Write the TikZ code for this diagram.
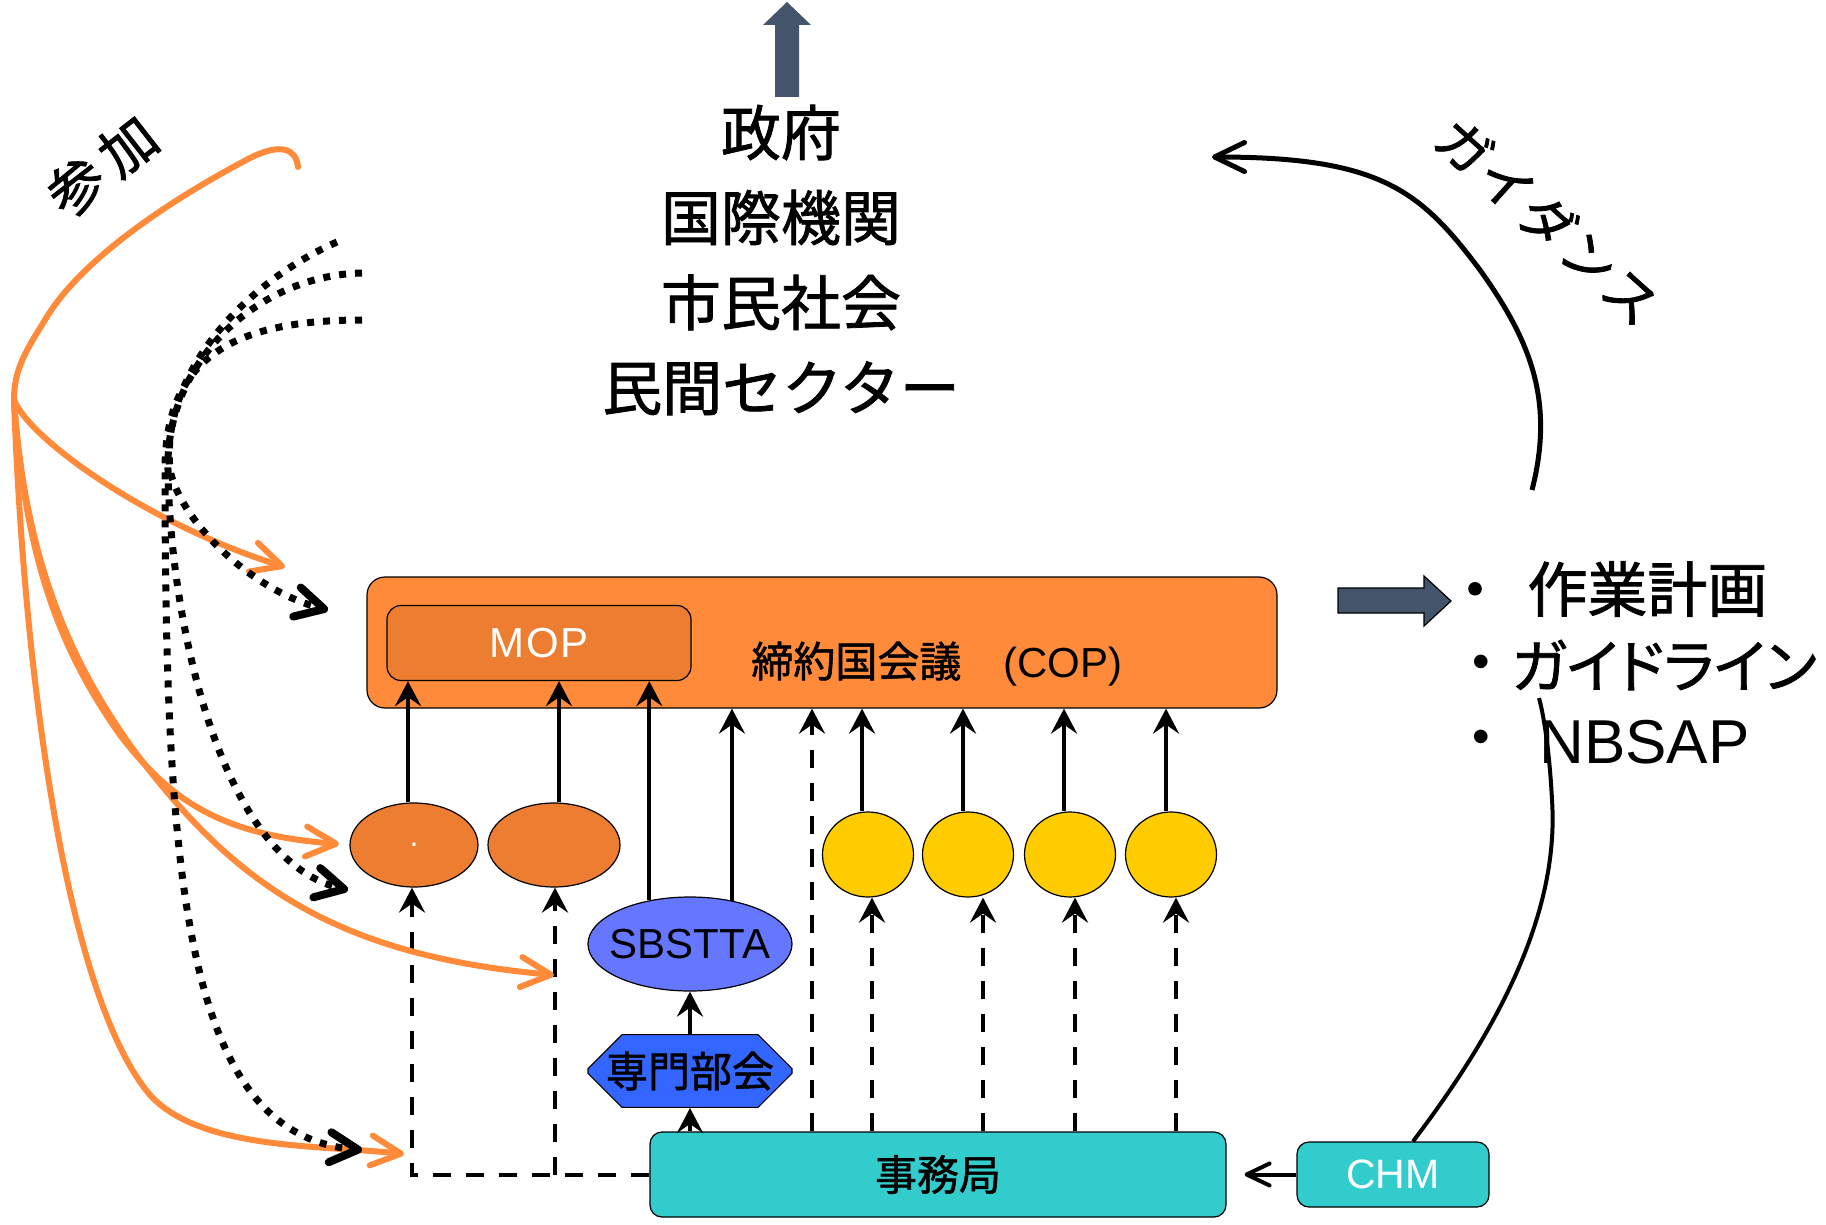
\documentclass[tikz,border=0pt]{standalone}
\usepackage{fontspec}
\setmainfont{Liberation Sans}
\newfontfamily\jp{Noto Sans CJK JP}[RawFeature={embolden=1.3}]
\newfontfamily\jpp{Noto Sans CJK JP}[RawFeature={+palt;embolden=1.3}]
\usetikzlibrary{arrows.meta,shapes.geometric,shapes.misc,calc}
\definecolor{coporange}{HTML}{FF8B3A}
\definecolor{moporange}{HTML}{ED7D31}
\definecolor{ygold}{HTML}{FFCC00}
\definecolor{sbblue}{HTML}{6677FF}
\definecolor{smblue}{HTML}{3366FF}
\definecolor{jimu}{HTML}{33CCCC}
\definecolor{slate}{HTML}{44546A}
\newcommand\myfs[1]{\fontsize{#1}{#1}\selectfont}
\begin{document}
\begin{tikzpicture}[x=0.5pt,y=-0.5pt]
\tikzset{
  box/.style={draw=black,line width=0.6pt,inner sep=0pt},
  orell/.style={box,ellipse,fill=moporange,minimum height=42pt},
  yell/.style={box,ellipse,fill=ygold,minimum width=45.5pt,minimum height=42.5pt},
  sarr/.style={line width=2pt,-{Stealth[length=12.5pt,width=13pt,inset=4.5pt]}},
  darr/.style={sarr,dash pattern=on 9pt off 7.5pt},
  orarr/.style={draw=coporange,line width=3pt,line cap=round,-{Straight Barb[length=15pt,width=15pt,round]}},
  dotarr/.style={line width=3.5pt,dash pattern=on 3.5pt off 4.5pt,-{Straight Barb[length=14pt,width=15pt,line width=4pt,round]}},
  jptxt/.style={font=\jp\myfs{#1}},
  rottxt/.style={inner sep=0pt,font=\jp\myfs{#1}},
}
\fill[white] (0,0) rectangle (1826,1225);
\useasboundingbox (0,0) rectangle (1826,1225);

% ---- top block arrow and actors
\fill[slate] (775,97) -- (775,25) -- (763,25) -- (787,2) -- (811,25) -- (799,25) -- (799,97) -- cycle;
\node[align=center,font=\jp\fontsize{30pt}{42.5pt}\selectfont,inner sep=0pt] (actors) at (781,260) {政府\\国際機関\\市民社会\\民間セクター};

% ---- COP
\node[box,fill=coporange,rounded corners=9pt,minimum width=455pt,minimum height=65.5pt] (cop) at (822,642.5) {};
\node[box,fill=moporange,rounded corners=7pt,minimum width=152pt,minimum height=37.5pt,text=white,font=\myfs{21pt}] (mop) at (539,643) {M\kern1ptO\kern1ptP};
\node[anchor=base west,inner sep=0pt,font=\myfs{21pt}] (coptext) at (751,677) {{\jp 締約国会議}\hspace{21pt}(COP)};

% ---- ellipses
\node[orell,minimum width=64pt,text=white,font=\myfs{16pt}] (e1) at (414,845) {.};
\node[orell,minimum width=66pt] (e2) at (554,845) {};
\node[yell] (y1) at (868,854.5) {};
\node[yell] (y2) at (968,854.5) {};
\node[yell] (y3) at (1070,854.5) {};
\node[yell] (y4) at (1171,854.5) {};
\node[box,ellipse,inner xsep=-6pt,fill=sbblue,minimum width=102pt,minimum height=47pt,font=\myfs{21pt}] (sb) at (690,944) {SBSTTA};
\node[box,chamfered rectangle,chamfered rectangle xsep=8.5pt,chamfered rectangle ysep=8.5pt,fill=smblue,minimum width=102pt,minimum height=33pt,jptxt=21pt] (sen) at (690,1071) {専門部会};
\node[box,fill=jimu,rounded corners=6pt,minimum width=288pt,minimum height=42.5pt,jptxt=21pt] (sec) at (938,1174.5) {事務局};
\node[box,fill=jimu,rounded corners=6pt,minimum width=96pt,minimum height=32.5pt,text=white,font=\myfs{20.5pt}] (chm) at (1393,1174.5) {CHM};

% ---- column coordinates
\coordinate (k1) at (412,0);
\coordinate (k2) at (555,0);
\coordinate (c1) at (408,0);
\coordinate (c2) at (559,0);
\coordinate (k5) at (812,0);
\coordinate (s1) at (862,0);
\coordinate (s2) at (963,0);
\coordinate (s3) at (1064,0);
\coordinate (s4) at (1166,0);
\coordinate (d1) at (872,0);
\coordinate (d2) at (983,0);
\coordinate (d3) at (1075,0);
\coordinate (d4) at (1176,0);

% ---- solid arrows up
\draw[sarr] (c1 |- e1.north) -- (c1 |- mop.south);
\draw[sarr] (c2 |- e2.north) -- (c2 |- mop.south);
\draw[sarr] (sb.133) -- (sb.133 |- mop.south);
\draw[sarr] (sb.46) -- (sb.46 |- cop.south);
\draw[sarr] (s1 |- y1.north) -- (s1 |- cop.south);
\draw[sarr] (s2 |- y2.north) -- (s2 |- cop.south);
\draw[sarr] (s3 |- y3.north) -- (s3 |- cop.south);
\draw[sarr] (s4 |- y4.north) -- (s4 |- cop.south);
\draw[sarr] (sen.north) -- (sb.south);
\draw[sarr] (sen.south |- sec.north) -- (sen.south);

% ---- dashed arrows
\draw[darr] (k5 |- sec.north) -- (k5 |- cop.south);
\draw[darr] (d1 |- sec.north) -- (d1 |- y1.south);
\draw[darr] (d2 |- sec.north) -- (d2 |- y2.south);
\draw[darr] (d3 |- sec.north) -- (d3 |- y3.south);
\draw[darr] (d4 |- sec.north) -- (d4 |- y4.south);
\draw[darr] (sec.west) -| (k1 |- e1.south);
\draw[darr] (k2 |- sec.west) -- (k2 |- e2.south);

% ---- CHM
\draw[line width=2pt,-{Straight Barb[length=11.5pt,width=11pt,round]},shorten >=9pt] (chm.west) -- (chm.west -| sec.east);
\coordinate (chmtop) at ($(chm.north)+(20,0)$);
\coordinate (chmend) at (1539,698);
\draw[line width=2pt] (chmtop) .. controls (1490,1040) and (1560,920) .. (1552,800) .. controls (1550,760) and (1545,720) .. (chmend);

% ---- right block arrow and list
\filldraw[fill=slate,draw=black,line width=0.6pt] (1338,588) -- (1424,588) -- (1424,576) -- (1451,601) -- (1424,626) -- (1424,613) -- (1338,613) -- cycle;
\node[inner sep=0pt,jptxt=30pt] (b1) at (1475,597) {・};
\node[anchor=west,inner sep=0pt,jptxt=30pt] (l1) at (1527,589) {作業計画};
\node[inner sep=0pt,font=\myfs{25pt}] (b2) at (1481,667) {•};
\node[anchor=west,inner sep=0pt,font=\jpp\myfs{29pt}] (l2) at (1511,665) {ガイドライン};
\node[inner sep=0pt,font=\myfs{25pt}] (b3) at (1481,742) {•};
\node[anchor=west,inner sep=0pt,font=\myfs{31pt}] (l3) at (1539,742) {NBSAP};

% ---- guidance
\coordinate (gstart) at (1532,490);
\coordinate (gend) at (1212,157);
\draw[line width=2.5pt,-{Straight Barb[length=15pt,width=14.5pt,round]}] (gstart) .. controls (1555,400) and (1530,340) .. (1480,270) .. controls (1420,190) and (1380,157) .. (gend);
\node[rotate=-42,rottxt=27pt] (guide) at (1548,221) {ガ\kern1ptイ\kern1ptダ\kern1ptン\kern1ptス};

% ---- participation
\node[rotate=38,rottxt=28pt] (part) at (102,166) {参\hspace{5pt}加};

\coordinate (oO) at (14,400);
\coordinate (oHook) at (298,167);
\coordinate (oa) at (285,567);
\coordinate (ob) at (339,844);
\coordinate (oc) at (554,975);
\coordinate (od) at (404,1154);
\draw[draw=coporange,line width=3pt,line cap=round] (oHook) .. controls (296,148) and (280,143) .. (250,158) .. controls (170,200) and (80,260) .. (45,320) .. controls (25,352) and (14,370) .. (oO);
\draw[orarr] (oO) .. controls (30,440) and (150,525) .. (oa);
\draw[orarr] (oO) .. controls (25,560) and (60,650) .. (120,735) .. controls (170,800) and (220,835) .. (ob);
\draw[orarr] (oO) .. controls (25,560) and (70,660) .. (130,745) .. controls (230,880) and (330,955) .. (oc);
\draw[orarr] (oO) .. controls (25,700) and (70,1000) .. (150,1095) .. controls (200,1150) and (320,1145) .. (od);

\coordinate (t1) at (337,242);
\coordinate (t2) at (362,273);
\coordinate (t3) at (362,320);
\coordinate (ta) at (328,610);
\coordinate (tb) at (348,890);
\coordinate (tc) at (362,1150);
\draw[dotarr] (t1) .. controls (250,280) and (160,370) .. (170,470) .. controls (180,520) and (250,590) .. (ta);
\draw[dotarr] (t2) .. controls (260,275) and (165,360) .. (168,470) .. controls (170,620) and (220,860) .. (tb);
\draw[dotarr] (t3) .. controls (230,320) and (165,360) .. (165,470) .. controls (165,900) and (190,1135) .. (tc);
\end{tikzpicture}
\end{document}
